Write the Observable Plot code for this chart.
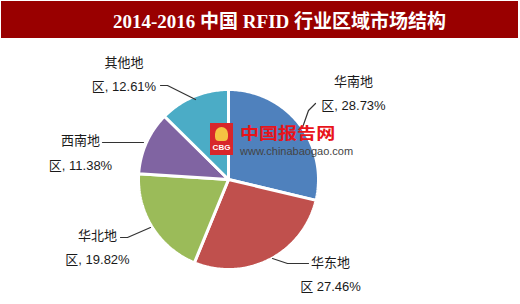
<!DOCTYPE html>
<html><head><meta charset="utf-8">
<script src="https://cdn.jsdelivr.net/npm/d3@7"></script>
<script src="https://cdn.jsdelivr.net/npm/@observablehq/plot@0.6"></script>
<style>
body{margin:0;background:#fff;width:520px;height:304px;position:relative;overflow:hidden;}
#title{position:absolute;left:1px;top:1px;width:517px;height:37px;background:#990000;color:#fff;
  font:bold 19px "Liberation Serif","Noto Sans CJK SC",serif;display:flex;align-items:center;justify-content:center;
  padding-left:40px;box-sizing:border-box;letter-spacing:0px;}
#chart{position:absolute;left:0;top:38px;}
#wm{position:absolute;left:210px;top:122px;pointer-events:none;}
#logo{position:absolute;left:0;top:1px;width:23px;height:32px;background:#d8262b;}
#logo span{position:absolute;left:0;bottom:3px;width:23px;text-align:center;color:#fff;font:bold 8px "Liberation Sans",sans-serif;}
#logo i{position:absolute;left:5px;top:4px;width:13px;height:14px;background:#f5c342;border-radius:50% 50% 30% 30%;}
#wm1{position:absolute;left:30px;top:2px;white-space:nowrap;color:#e8141b;font:bold 16px "Noto Sans CJK SC",sans-serif;line-height:16px;height:16px;transform:scaleX(1.19);transform-origin:0 0;}
#wm2{position:absolute;left:30px;top:24px;white-space:nowrap;color:#444;font:11px "Liberation Sans",sans-serif;line-height:11px;height:11px;}
</style></head><body>
<div id="title">2014-2016 中国 RFID 行业区域市场结构</div>
<div id="chart"></div>
<div id="wm"><div id="logo"><i></i><span>CBG</span></div><div id="wm1">中国报告网</div><div id="wm2">www.chinabaogao.com</div></div>
<script>
// ---- data ----
const regions = ["华南地区", "华东地区", "华北地区", "西南地区", "其他地区"];
const shares = [28.73, 27.46, 19.82, 11.38, 12.61];
const colors = ["#4F81BD", "#C0504D", "#9BBB59", "#8064A2", "#4BACC6"];
const labelTop = ["华南地", "华东地", "华北地", "西南地", "其他地"];
const labelBottom = ["区, 28.73%", "区 27.46%", "区, 19.82%", "区, 11.38%", "区, 12.61%"];

// ---- layout (pixel units, pie centre at 0,0) ----
const R = 90;
const labelPos = [[125, 89.5], [102, -91.5], [-131, -64.5], [-148, 30], [-104.5, 108.5]];
const leaders = [
  [[87, 76], [80, 69], [74, 52]],
  [[80, -84], [59, -84], [44, -79]],
  [[-108, -58], [-101, -58], [-78, -48]],
  [[-126, 37], [-85, 37]],
  [[-68, 94], [-61, 94], [-33, 80]]
];

const pie = d3.pie().sort(null).value(d => d.share)(regions.map((r, i) => ({region: r, share: shares[i]})));
const slices = [];
for (const a of pie) {
  const reg = a.data.region;
  slices.push({region: reg, x: 0, y: 0});
  const n = Math.max(2, Math.ceil((a.endAngle - a.startAngle) / (Math.PI / 180)));
  for (let k = 0; k <= n; k++) {
    const t = a.startAngle + (a.endAngle - a.startAngle) * k / n;
    slices.push({region: reg, x: R * Math.sin(t), y: R * Math.cos(t)});
  }
  slices.push({region: reg, x: 0, y: 0});
}
const labels = regions.map((r, i) => ({text: labelTop[i] + "\n" + labelBottom[i], x: labelPos[i][0], y: labelPos[i][1]}));
const leaderRows = leaders.flatMap((pts, i) => pts.map(p => ({id: i, x: p[0], y: p[1]})));

const plot = Plot.plot({
  width: 520, height: 266,
  margin: 0,
  x: {domain: [-228, 292], axis: null},
  y: {domain: [-125, 141], axis: null},
  color: {domain: regions, range: colors},
  marks: [
    Plot.line(slices, {x: "x", y: "y", z: "region", fill: "region", stroke: "white", strokeWidth: 3, strokeLinejoin: "miter", curve: "linear"}),
    Plot.line(leaderRows, {x: "x", y: "y", z: "id", stroke: "#333", strokeWidth: 1.2}),
    Plot.text(labels, {x: "x", y: "y", text: "text", fontSize: 13, lineHeight: 1.9, fill: "#1a1a1a", textAnchor: "middle", lineAnchor: "middle",
      fontFamily: "'Liberation Sans','Noto Sans CJK SC',sans-serif"})
  ]
});
document.getElementById("chart").appendChild(plot);
</script>
</body></html>
